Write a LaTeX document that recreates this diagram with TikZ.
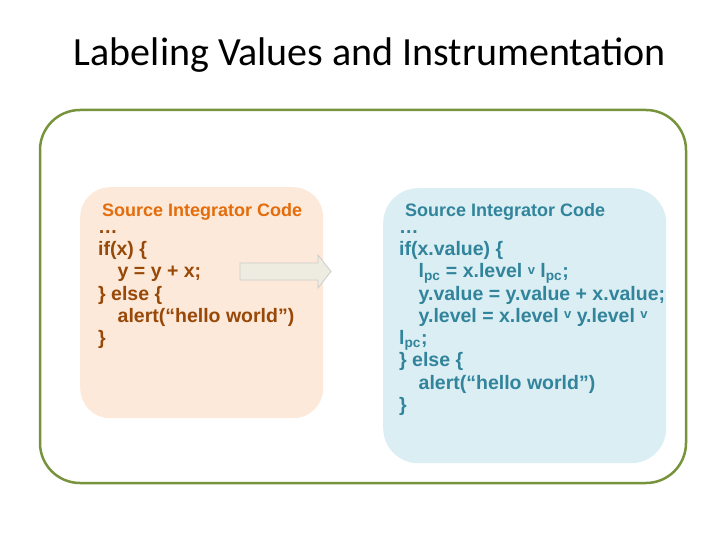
\documentclass[tikz,border=0pt]{standalone}
\usepackage{fontspec}
\setmainfont{Carlito}
\newfontfamily\codefont{Liberation Sans}
\definecolor{olive}{HTML}{77933C}
\definecolor{peach}{HTML}{FCE9DA}
\definecolor{lblue}{HTML}{DAEEF3}
\definecolor{brownt}{HTML}{984807}
\definecolor{oranget}{HTML}{E46C0A}
\definecolor{tealt}{HTML}{31849B}
\definecolor{arrowfill}{HTML}{EEECE1}
\newcommand{\orsym}{\raisebox{0.35ex}{\fontsize{13}{13}\selectfont v}}
\newcommand{\lpc}{l\textsubscript{pc}}
\begin{document}
\begin{tikzpicture}[x=1pt,y=-1pt,
  code/.style={anchor=north west,align=left,inner sep=0pt,font=\codefont\bfseries\fontsize{19.5}{22.3}\selectfont},
  head/.style={anchor=west,inner sep=0pt,font=\codefont\bfseries\fontsize{18}{20}\selectfont}]
\useasboundingbox (0,0) rectangle (720,540);
\node (title) at (370,55) {\fontsize{40}{44}\selectfont Labeling Values and Instrumentation};
\draw[olive,line width=2.5pt,rounded corners=40] (40,110) rectangle (686,483);
\node[fill=peach,rounded corners=30,minimum width=243,minimum height=231,anchor=north west,inner sep=0pt] (lb) at (80,187) {};
\node[fill=lblue,rounded corners=35,minimum width=283,minimum height=275,anchor=north west,inner sep=0pt] (rb) at (383,188) {};
\node[head,text=oranget] (lh) at (102,212) {Source Integrator Code};
\node[head,text=tealt] (rh) at (405,212) {Source Integrator Code};
\node[code,text=brownt] (lc) at (98,230) {\dots\\if(x) \{\\\quad y = y + x;\\\} else \{\\\quad alert(“hello world”)\\\}};
\node[code,text=tealt] (rc) at (399,230) {\dots\\if(x.value) \{\\\quad \lpc\ = x.level \orsym\ \lpc;\\\quad y.value = y.value + x.value;\\\quad y.level = x.level \orsym\ y.level \orsym\\\lpc;\\\} else \{\\\quad alert(“hello world”)\\\}};
\draw[draw=black!20,fill=arrowfill,line width=0.8pt] (240,263) -- (318,263) -- (318,255) -- (331,271.5) -- (318,288) -- (318,280) -- (240,280) -- cycle;
\end{tikzpicture}
\end{document}
